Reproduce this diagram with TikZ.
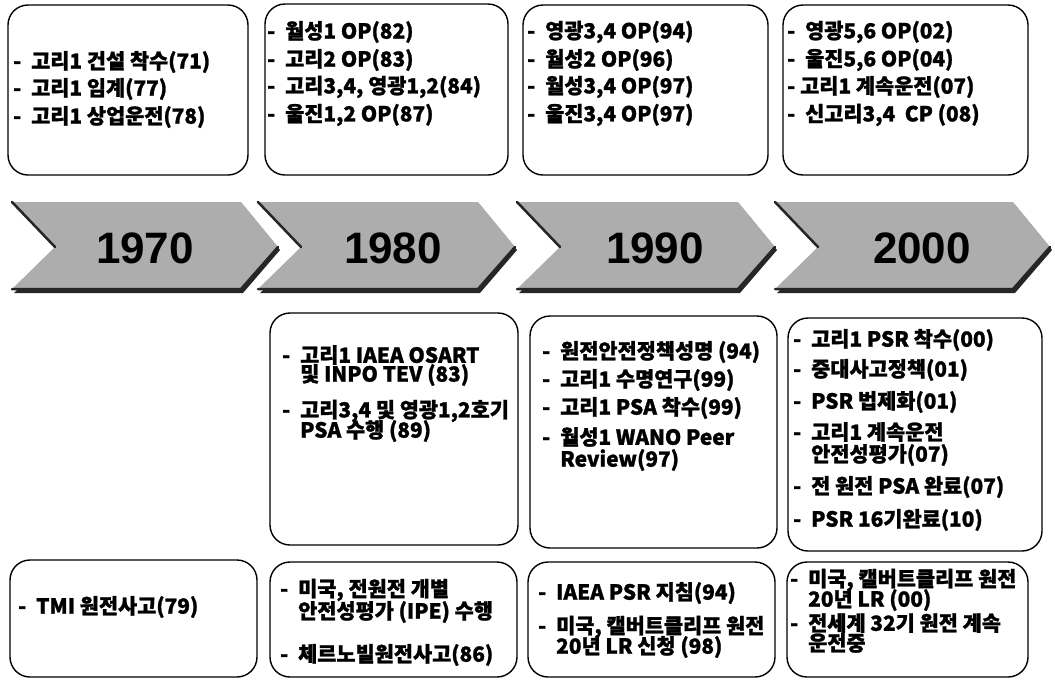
\documentclass[tikz,border=0pt]{standalone}
\usepackage{fontspec}
\setmainfont{Liberation Sans}
\newfontfamily\kr{Noto Sans CJK KR}[BoldFeatures={FakeBold=1.2}]
\newcommand\dsh{\makebox[18pt][l]{-}}
\tikzset{
  x=1pt, y=-1pt,
  box/.style={draw=black, line width=1.4pt, rounded corners=20pt},
  txt/.style={anchor=west, inner sep=0pt, font=\kr\bfseries\fontsize{20.8}{21}\selectfont},
  yearlab/.style={inner sep=0pt, font=\bfseries\fontsize{44}{44}\selectfont},
  chevfill/.style={fill=black!32},
  chevshadow/.style={fill=black!85},
  chevedge/.style={draw=black!85, line width=2.5pt, line cap=round},
}
\begin{document}
\begin{tikzpicture}
\useasboundingbox[fill=white] (0,0) rectangle (1055,681);

% ---- chevrons ----
\foreach \xa/\xt/\yr/\xc [count=\i] in {12/278/1970/145, 258/515/1980/393, 517/775/1990/655, 775/1050/2000/922}{
  \fill[chevshadow] (\xa+2,205) -- (\xt-35,205) -- (\xt+2,250) -- (\xt-35,293) -- (\xa+2,293) -- (\xa+45,250) -- cycle;
  \fill[chevfill] (\xa,202) -- (\xt-37,202) -- (\xt,247) -- (\xt-37,289) -- (\xa,289) -- (\xa+43,247) -- cycle;
  \draw[chevedge] (\xa,202) -- (\xa+43,247);
  \draw[chevedge] (\xa,289) -- (\xt-37,289) -- (\xt,247);
  \node[yearlab] (y\i) at (\xc,248) {\yr};
}

% ---- top boxes ----
\draw[box] (8,5) rectangle (248,175);
\draw[box] (265,4) rectangle (508,175);
\draw[box] (523,5) rectangle (768,175);
\draw[box] (783,5) rectangle (1028,175);

\node[txt] (a1) at (13,62)  {\dsh 고리1 건설 착수(71)};
\node[txt] (a2) at (13,89)  {\dsh 고리1 임계(77)};
\node[txt] (a3) at (13,117) {\dsh 고리1 상업운전(78)};

\node[txt] (b1) at (267,32)  {\dsh 월성1 OP(82)};
\node[txt] (b2) at (267,60)  {\dsh 고리2 OP(83)};
\node[txt] (b3) at (267,87)  {\dsh 고리3,4, 영광1,2(84)};
\node[txt] (b4) at (267,115) {\dsh 울진1,2 OP(87)};

\node[txt] (c1) at (527,32)  {\dsh 영광3,4 OP(94)};
\node[txt] (c2) at (527,60)  {\dsh 월성2 OP(96)};
\node[txt] (c3) at (527,87)  {\dsh 월성3,4 OP(97)};
\node[txt] (c4) at (527,115) {\dsh 울진3,4 OP(97)};

\node[txt] (d1) at (787,32)  {\dsh 영광5,6 OP(02)};
\node[txt] (d2) at (787,60)  {\dsh 울진5,6 OP(04)};
\node[txt] (d3) at (787,87)  {\makebox[13pt][l]{-}고리1 계속운전(07)};
\node[txt] (d4) at (787,115) {\dsh 신고리3,4~ CP (08)};

% ---- middle boxes ----
\draw[box] (270,313) rectangle (518,545);
\draw[box] (530,316) rectangle (777,548);
\draw[box] (788,318) rectangle (1042,551);

\node[txt] (e1) at (282,355) {\dsh 고리1 IAEA OSART};
\node[txt] (e2) at (300,375) {및 INPO TEV (83)};
\node[txt] (e3) at (282,411) {\dsh 고리3,4 및 영광1,2호기};
\node[txt] (e4) at (300,431) {PSA 수행 (89)};

\node[txt] (f1) at (542,352) {\dsh 원전안전정책성명 (94)};
\node[txt] (f2) at (542,380) {\dsh 고리1 수명연구(99)};
\node[txt] (f3) at (542,408) {\dsh 고리1 PSA 착수(99)};
\node[txt] (f4) at (542,437) {\dsh 월성1 WANO Peer};
\node[txt] (f5) at (560,460) {Review(97)};

\node[txt] (g1) at (793,340) {\dsh 고리1 PSR 착수(00)};
\node[txt] (g2) at (793,370) {\dsh 중대사고정책(01)};
\node[txt] (g3) at (793,402) {\dsh PSR 법제화(01)};
\node[txt] (g4) at (793,432) {\dsh 고리1 계속운전};
\node[txt] (g5) at (811,455) {안전성평가(07)};
\node[txt] (g6) at (793,487) {\dsh 전 원전 PSA 완료(07)};
\node[txt] (g7) at (793,520) {\dsh PSR 16기완료(10)};

% ---- bottom boxes ----
\draw[box] (10,560) rectangle (257,677);
\draw[box] (270,562) rectangle (517,677);
\draw[box] (528,562) rectangle (775,677);
\draw[box] (787,562) rectangle (1028,677);

\node[txt] (h1) at (18,607) {\dsh TMI 원전사고(79)};

\node[txt] (i1) at (280,590) {\dsh 미국, 전원전 개별};
\node[txt] (i2) at (298,612) {안전성평가 (IPE) 수행};
\node[txt] (i3) at (280,655) {\dsh 체르노빌원전사고(86)};

\node[txt] (j1) at (538,593) {\dsh IAEA PSR 지침(94)};
\node[txt] (j2) at (538,627) {\dsh 미국, 캘버트클리프 원전};
\node[txt] (j3) at (556,647) {20년 LR 신청 (98)};

\node[txt] (k1) at (790,580) {\dsh 미국, 캘버트클리프 원전};
\node[txt] (k2) at (808,600) {20년 LR (00)};
\node[txt] (k3) at (790,623) {\dsh 전세계 32기 원전 계속};
\node[txt] (k4) at (808,643) {운전중};
\end{tikzpicture}
\end{document}
